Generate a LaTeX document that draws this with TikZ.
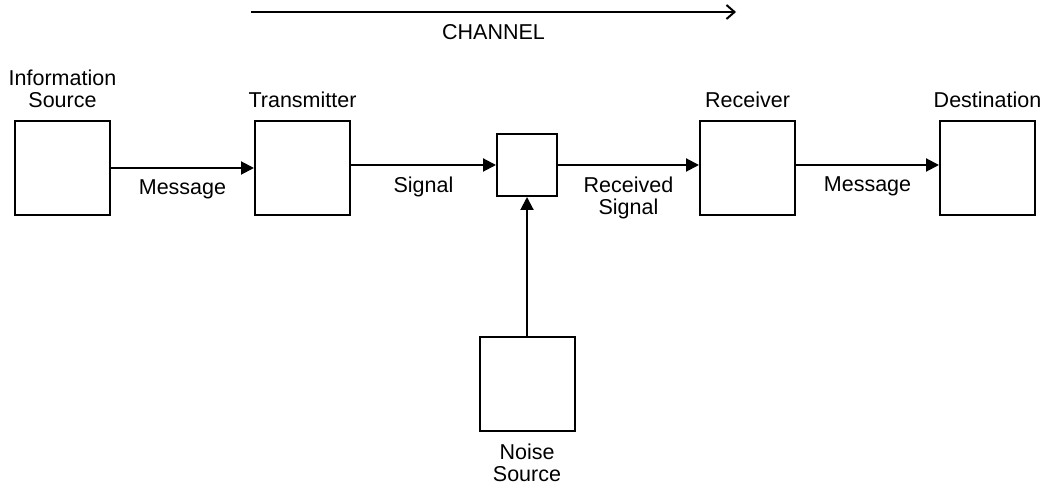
\documentclass[tikz,border=0pt]{standalone}
\usepackage{fontspec}
\setmainfont{Liberation Sans}
\usetikzlibrary{arrows.meta,positioning,calc}
\def \boxDistance {71.5pt}
\def \noiseDistance {69.5pt}
\def \labelDistance {6pt}
\def \arrowLabelDistance {5.5pt}
\def \channelHeight {54pt}
\tikzset{
	block/.style= {draw, rectangle, line width=1pt, minimum width=47.5pt, minimum height=47pt},
	smallblock/.style= {draw, rectangle, line width=1pt, minimum width=30pt, minimum height=31pt},
	textlabel/.style= {align=center, inner sep=0pt},
	flow/.style= {line width=1pt, -{Triangle[length=6.5pt,width=6.5pt]}},
	channelarrow/.style= {line width=1pt, -{Straight Barb[length=4pt,width=7pt]}}
}
\begin{document}
\begin{tikzpicture}[font=\fontsize{10.75}{11}\selectfont]
	\useasboundingbox (0,0) rectangle (521.5pt,-242.5pt);

%%%%%%%%%%%%%%%%%%%%% Nodes %%%%%%%%%%%%%%%%%%%%%
	\node [block] (src) at (31.25pt,-84pt) {};
	\node [block, right =\boxDistance of src] (tx) {};
	\node [smallblock, right =\boxDistance of tx, xshift=1pt, yshift=1.5pt] (mix) {};
	\node [block, right =\boxDistance of mix, xshift=-1pt, yshift=-1.5pt] (rx) {};
	\node [block, right =\boxDistance of rx] (dst) {};
	\node [block, below =\noiseDistance of mix] (noise) {};

	\node [textlabel, above =\labelDistance of src] (srcLabel) {Information\\Source};
	\node [textlabel, above =\labelDistance of tx] (txLabel) {Transmitter};
	\node [textlabel, above =\labelDistance of rx] (rxLabel) {Receiver};
	\node [textlabel, above =\labelDistance of dst] (dstLabel) {Destination};
	\node [textlabel, below =\labelDistance of noise] (noiseLabel) {Noise\\Source};

	\coordinate [above =\channelHeight of tx.north west, xshift=-1.5pt] (chStart);
	\coordinate [above =\channelHeight of rx.north, xshift=-5.75pt] (chEnd);

%%%%%%%%%%%%%%%%%%%%% Links %%%%%%%%%%%%%%%%%%%%%
	\draw [channelarrow] (chStart) -- node [textlabel, below =\arrowLabelDistance] (chLabel) {CHANNEL} (chEnd);
	\draw [flow] (src) -- node [textlabel, below =\arrowLabelDistance] (msgLabel) {Message} (tx);
	\draw [flow] (tx.east |- mix) -- node [textlabel, below =\arrowLabelDistance] (sigLabel) {Signal} (mix);
	\draw [flow] (mix) -- node [textlabel, below =\arrowLabelDistance] (recLabel) {Received\\Signal} (rx.west |- mix);
	\draw [flow] (rx.east |- mix) -- node [textlabel, below =\arrowLabelDistance] (outLabel) {Message} (dst.west |- mix);
	\draw [flow] (noise) -- (mix);

\end{tikzpicture}
\end{document}
